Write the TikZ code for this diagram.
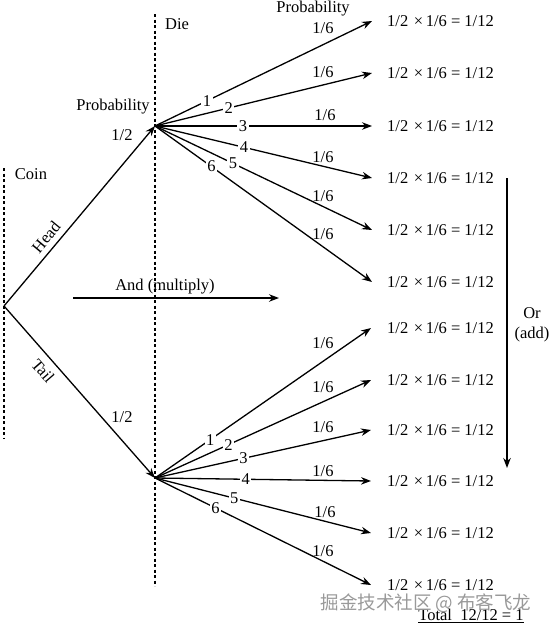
\documentclass[tikz,border=0pt]{standalone}
\usepackage{fontspec}
\setmainfont{Liberation Serif}
\newfontfamily\cjkfont{Noto Sans CJK SC}
\usetikzlibrary{arrows.meta}
\begin{document}
\begin{tikzpicture}[x=1pt,y=-1pt,
  every node/.style={font=\fontsize{16.5}{19}\selectfont, inner sep=1pt},
  arr/.style={line width=1.3pt, -{Stealth[length=10pt,width=7.5pt]}},
  guide/.style={line width=1.6pt, dash pattern=on 3pt off 2.5pt},
  numlab/.style={fill=white, inner sep=1.5pt},
  res/.style={anchor=west}
]
\useasboundingbox (0,0) rectangle (550,632);
% guides
\coordinate (cg1) at (4,168);
\coordinate (cg2) at (4,438);
\coordinate (dg1) at (155,14);
\coordinate (dg2) at (155,586);
\draw[guide] (cg1) -- (cg2);
\draw[guide] (dg1) -- (dg2);
% main points
\coordinate (root) at (4,306);
\coordinate (H) at (155,126);
\coordinate (T) at (155,478);
\draw[arr] (root) -- (H);
\draw[arr] (root) -- (T);
\node[rotate=50.4] (headlab) at (46,237) {Head};
\node[rotate=-49] (taillab) at (43,371) {Tail};
% labels
\node (coin) at (31,174) {Coin};
\node (die) at (177,24) {Die};
\node (prob1) at (113,107) {Probability};
\node (half1) at (122,135) {1/2};
\node (half2) at (122,417) {1/2};
\node (prob2) at (313,9) {Probability};
% top fan
\foreach \i/\y/\p in {1/21/0.24, 2/73/0.34, 3/126/0.405, 4/178/0.41, 5/230/0.36, 6/282/0.26} {
  \node[res] (a\i) at (386,\y) {1/2\,\,×\,1/6 = 1/12};
  \draw[arr] (H) -- ([xshift=-14pt]a\i.west) node[pos=\p, numlab] {\i};
}
\foreach \x/\y [count=\k] in {323/28, 323/72, 325/115, 323/157, 323/196, 323/234} {
  \node (pa\k) at (\x,\y) {1/6};
}
% bottom fan
\foreach \i/\y/\p in {1/328/0.256, 2/380/0.34, 3/430/0.41, 4/481/0.42, 5/533/0.367, 6/585/0.28} {
  \node[res] (b\i) at (386,\y) {1/2\,\,×\,1/6 = 1/12};
  \draw[arr] (T) -- ([xshift=-15pt]b\i.west) node[pos=\p, numlab] {\i};
}
\foreach \x/\y [count=\k] in {323/343, 323/387, 323/427, 323/471, 325/512, 323/551} {
  \node (pb\k) at (\x,\y) {1/6};
}
% and arrow
\coordinate (m1) at (73,298);
\coordinate (m2) at (279,298);
\draw[arr] (m1) -- (m2);
\node (andlab) at (165,287) {And (multiply)};
% or arrow
\coordinate (o1) at (507,178);
\coordinate (o2) at (507,468);
\draw[arr] (o1) -- (o2);
\node (orlab) at (532,313) {Or};
\node (addlab) at (532,335) {(add)};
% total
\node (total) at (471,616) {\underline{Total~~12/12 = 1}};
% watermark
\node[text=gray!80, font=\cjkfont\fontsize{18.5}{20}\selectfont] (wm) at (426,603) {掘金技术社区 @ 布客飞龙};
\end{tikzpicture}
\end{document}
